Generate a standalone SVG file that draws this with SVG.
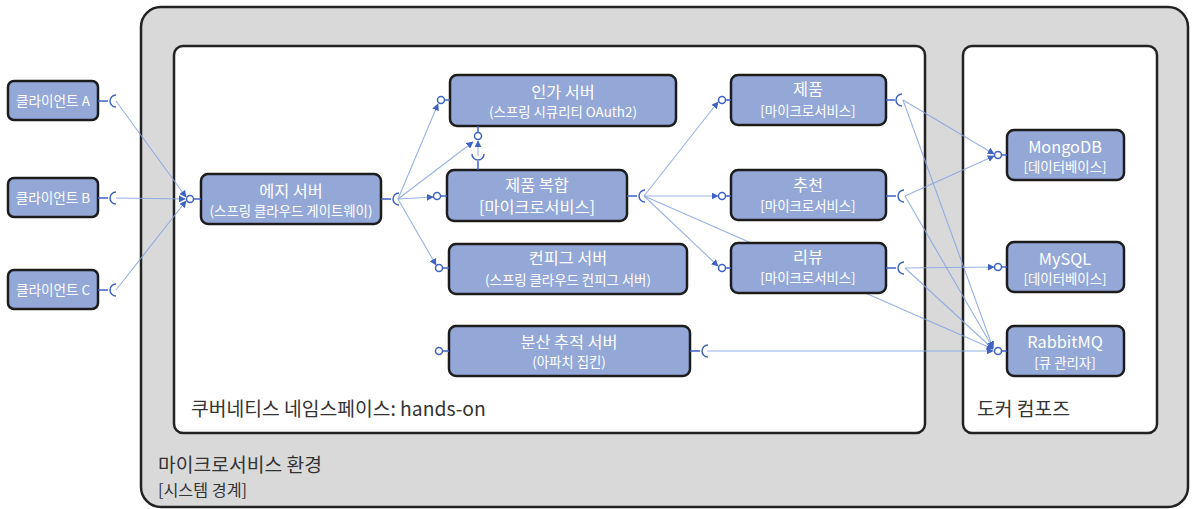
<svg xmlns="http://www.w3.org/2000/svg" width="1192" height="509" viewBox="0 0 1192 509">
<style>
text{font-family:"Noto Sans CJK KR","Noto Sans",sans-serif}
.box{fill:#94a8d8;stroke:#1c1c1c;stroke-width:2.5}
.t{fill:#fff;font-size:16.3px;text-anchor:middle}
.s{fill:#fff;font-size:13.4px;text-anchor:middle}
.c{fill:#fff;font-size:13.6px;text-anchor:middle}
.lbl{fill:#333;font-size:19.3px}
.con{stroke:#87a3e0;stroke-width:1.1;fill:none;stroke-opacity:0.85;marker-end:url(#ah)}
.pl{stroke:#3f63c2;stroke-width:1.5;fill:none}
.pc{stroke:#3f63c2;stroke-width:1.5;fill:#fff}
</style>
<defs>
<marker id="ah" viewBox="0 0 10 10" refX="9" refY="5" markerWidth="7" markerHeight="7" orient="auto" markerUnits="userSpaceOnUse">
<path d="M0,0 L10,5 L0,10 z" fill="#3f63c2"/>
</marker>
</defs>

<g id="system-boundary">
<rect x="141" y="7" width="1047" height="500" rx="20" fill="#d9d9d9" stroke="#222" stroke-width="2.5"/>
<text class="lbl" x="158" y="472">마이크로서비스 환경</text>
<text x="158" y="496" fill="#333" font-size="16.2">[시스템 경계]</text>
</g>
<g id="k8s-namespace">
<rect x="174" y="46" width="751" height="387" rx="9" fill="#fff" stroke="#222" stroke-width="2.5"/>
<text class="lbl" x="191" y="416">쿠버네티스 네임스페이스: hands-on</text>
</g>
<g id="docker-compose">
<rect x="963" y="46" width="194" height="387" rx="9" fill="#fff" stroke="#222" stroke-width="2.5"/>
<text class="lbl" x="977" y="416">도커 컴포즈</text>
</g>

<g id="connectors">
<line class="con" x1="116" y1="101" x2="186" y2="197"/>
<line class="con" x1="116" y1="198" x2="185" y2="199"/>
<line class="con" x1="116" y1="290" x2="186" y2="201"/>
<line class="con" x1="398" y1="199" x2="438" y2="104"/>
<line class="con" x1="398" y1="199" x2="473" y2="142"/>
<line class="con" x1="398" y1="199" x2="433" y2="197"/>
<line class="con" x1="398" y1="199" x2="436" y2="265"/>
<line class="con" x1="478" y1="156" x2="478" y2="141"/>
<line class="con" x1="644" y1="196" x2="718" y2="102"/>
<line class="con" x1="644" y1="196" x2="718" y2="196"/>
<line class="con" x1="644" y1="196" x2="718" y2="266"/>
<line class="con" x1="644" y1="196" x2="993" y2="349"/>
<line class="con" x1="903" y1="100" x2="994" y2="154"/>
<line class="con" x1="903" y1="100" x2="993" y2="348"/>
<line class="con" x1="905" y1="196" x2="994" y2="156"/>
<line class="con" x1="905" y1="196" x2="993" y2="348"/>
<line class="con" x1="905" y1="268" x2="994" y2="267"/>
<line class="con" x1="905" y1="268" x2="993" y2="349"/>
<line class="con" x1="707" y1="351" x2="993" y2="351"/>
</g>

<g id="client-a">
<rect class="box" x="8" y="81" width="90" height="39" rx="6"/>
<text class="c" x="53" y="106">클라이언트 A</text>
<path class="pl" d="M98,101 H108 M116,95 A6,6 0 0 0 116,107"/>
</g>
<g id="client-b">
<rect class="box" x="8" y="178" width="90" height="39" rx="6"/>
<text class="c" x="53" y="203">클라이언트 B</text>
<path class="pl" d="M98,198 H108 M116,192 A6,6 0 0 0 116,204"/>
</g>
<g id="client-c">
<rect class="box" x="8" y="270" width="90" height="39" rx="6"/>
<text class="c" x="53" y="295">클라이언트 C</text>
<path class="pl" d="M98,290 H108 M116,284 A6,6 0 0 0 116,296"/>
</g>

<g id="edge-server">
<rect class="box" x="201" y="174" width="180" height="50" rx="7"/>
<text class="t" x="291" y="197">에지 서버</text>
<text class="s" x="291" y="216">(스프링 클라우드 게이트웨이)</text>
<path class="pl" d="M201,199 H194"/><circle class="pc" cx="190" cy="199" r="3.5"/>
<path class="pl" d="M381,199 H391 M399,193 A6,6 0 0 0 399,205"/>
</g>

<g id="auth-server">
<rect class="box" x="450" y="75" width="226" height="51" rx="7"/>
<text class="t" x="563" y="98">인가 서버</text>
<text class="s" x="563" y="117">(스프링 시큐리티 OAuth2)</text>
<path class="pl" d="M450,100 H445"/><circle class="pc" cx="441" cy="100" r="3.5"/>
<path class="pl" d="M478,126 V132"/><circle class="pc" cx="478" cy="136" r="3.5"/>
</g>

<g id="product-composite">
<rect class="box" x="447" y="170" width="180" height="51" rx="7"/>
<text class="t" x="537" y="191">제품 복합</text>
<text class="t" x="537" y="213">[마이크로서비스]</text>
<path class="pl" d="M447,196 H441"/><circle class="pc" cx="437" cy="196" r="3.5"/>
<path class="pl" d="M627,196 H637 M645,190 A6,6 0 0 0 645,202"/>
<path class="pl" d="M478,170 V161 M472,154 A6,6 0 0 0 484,154"/>
</g>

<g id="config-server">
<rect class="box" x="449" y="244" width="238" height="50" rx="7"/>
<text class="t" x="568" y="264">컨피그 서버</text>
<text class="s" x="568" y="285">(스프링 클라우드 컨피그 서버)</text>
<path class="pl" d="M449,268 H443"/><circle class="pc" cx="439" cy="268" r="3.5"/>
</g>

<g id="tracing-server">
<rect class="box" x="449" y="326" width="241" height="50" rx="7"/>
<text class="t" x="569" y="348">분산 추적 서버</text>
<text class="s" x="569" y="367">(아파치 집킨)</text>
<path class="pl" d="M449,351 H443"/><circle class="pc" cx="439" cy="351" r="3.5"/>
<path class="pl" d="M690,351 H700 M708,345 A6,6 0 0 0 708,357"/>
</g>

<g id="product">
<rect class="box" x="731" y="75" width="155" height="50" rx="7"/>
<text class="t" x="808" y="95">제품</text>
<text class="s" x="808" y="116">[마이크로서비스]</text>
<path class="pl" d="M731,100 H726"/><circle class="pc" cx="722" cy="100" r="3.5"/>
<path class="pl" d="M886,100 H895 M902,94 A6,6 0 0 0 902,106"/>
</g>

<g id="recommendation">
<rect class="box" x="731" y="170" width="155" height="50" rx="7"/>
<text class="t" x="808" y="191">추천</text>
<text class="s" x="808" y="211">[마이크로서비스]</text>
<path class="pl" d="M731,196 H726"/><circle class="pc" cx="722" cy="196" r="3.5"/>
<path class="pl" d="M886,196 H896 M904,190 A6,6 0 0 0 904,202"/>
</g>

<g id="review">
<rect class="box" x="731" y="243" width="155" height="50" rx="7"/>
<text class="t" x="808" y="263">리뷰</text>
<text class="s" x="808" y="283">[마이크로서비스]</text>
<path class="pl" d="M731,268 H726"/><circle class="pc" cx="722" cy="268" r="3.5"/>
<path class="pl" d="M886,268 H896 M904,262 A6,6 0 0 0 904,274"/>
</g>

<g id="mongodb">
<rect class="box" x="1007" y="130" width="117" height="50" rx="7"/>
<text class="t" x="1065" y="153">MongoDB</text>
<text class="s" x="1065" y="172">[데이터베이스]</text>
<path class="pl" d="M1007,155 H1002"/><circle class="pc" cx="998" cy="155" r="3.5"/>
</g>

<g id="mysql">
<rect class="box" x="1007" y="242" width="117" height="50" rx="7"/>
<text class="t" x="1065" y="265">MySQL</text>
<text class="s" x="1065" y="284">[데이터베이스]</text>
<path class="pl" d="M1007,267 H1002"/><circle class="pc" cx="998" cy="267" r="3.5"/>
</g>

<g id="rabbitmq">
<rect class="box" x="1007" y="326" width="117" height="50" rx="7"/>
<text class="t" x="1065" y="348">RabbitMQ</text>
<text class="s" x="1065" y="368">[큐 관리자]</text>
<path class="pl" d="M1007,351 H1002"/><circle class="pc" cx="998" cy="351" r="3.5"/>
</g>
</svg>
